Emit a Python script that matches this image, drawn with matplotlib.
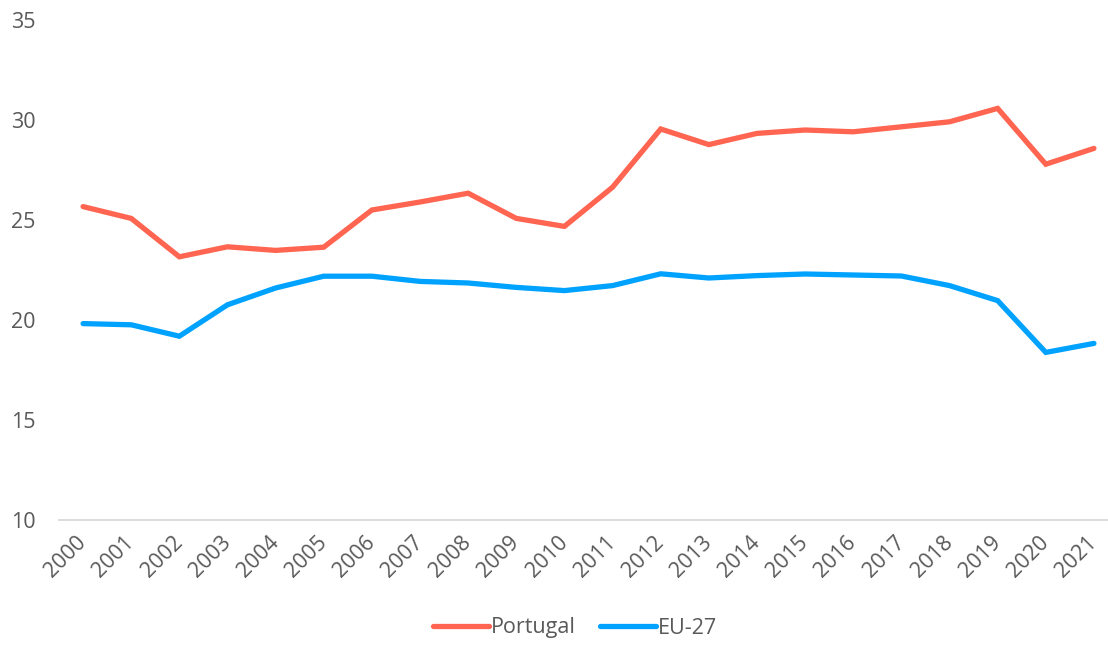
import matplotlib
matplotlib.use("Agg")
import matplotlib.pyplot as plt

years = [str(y) for y in range(2000, 2022)]
portugal = [25.67, 25.08, 23.16, 23.66, 23.48, 23.64, 25.5, 25.9, 26.34, 25.08, 24.68,
            26.64, 29.55, 28.77, 29.33, 29.5, 29.41, 29.66, 29.91, 30.58, 27.79, 28.58]
eu27 = [19.82, 19.76, 19.19, 20.76, 21.6, 22.19, 22.19, 21.93, 21.85, 21.63, 21.47,
        21.72, 22.31, 22.1, 22.22, 22.3, 22.25, 22.2, 21.72, 20.97, 18.38, 18.83]
y_ticks = [10, 15, 20, 25, 30, 35]

plt.rcParams['font.family'] = ['Open Sans', 'DejaVu Sans']
text_col = '#595959'

fig = plt.figure(figsize=(11.08, 6.46), dpi=100)
ax = fig.add_axes([59 / 1108, 126 / 646, 1059 / 1108, 500 / 646])

x = range(len(years))
ax.plot(x, portugal, color='#FF6550', lw=3.8, solid_capstyle='round',
        solid_joinstyle='miter', label='Portugal')
ax.plot(x, eu27, color='#00A2FF', lw=3.8, solid_capstyle='round',
        solid_joinstyle='miter', label='EU-27')

ax.set_xlim(-0.5, len(years) - 0.5)
ax.set_ylim(10, 35)
ax.set_yticks(y_ticks)
ax.set_xticks(list(x))
ax.set_xticklabels(years, rotation=45, ha='right', va='center',
                   rotation_mode='anchor')
ax.tick_params(axis='both', length=0, labelsize=15.5, labelcolor=text_col)
ax.tick_params(axis='y', pad=17)
ax.tick_params(axis='x', pad=14)

for s in ['top', 'right', 'left']:
    ax.spines[s].set_visible(False)
ax.spines['bottom'].set_color('#d9d9d9')
ax.spines['bottom'].set_linewidth(1.3)

fig.legend(loc='center', bbox_to_anchor=(575 / 1108, 1 - 628 / 646), ncol=2,
           frameon=False, fontsize=15.5, handlelength=2.6, handletextpad=0.1,
           columnspacing=1.1, labelcolor=text_col)

fig.savefig('out.png', dpi=100)
